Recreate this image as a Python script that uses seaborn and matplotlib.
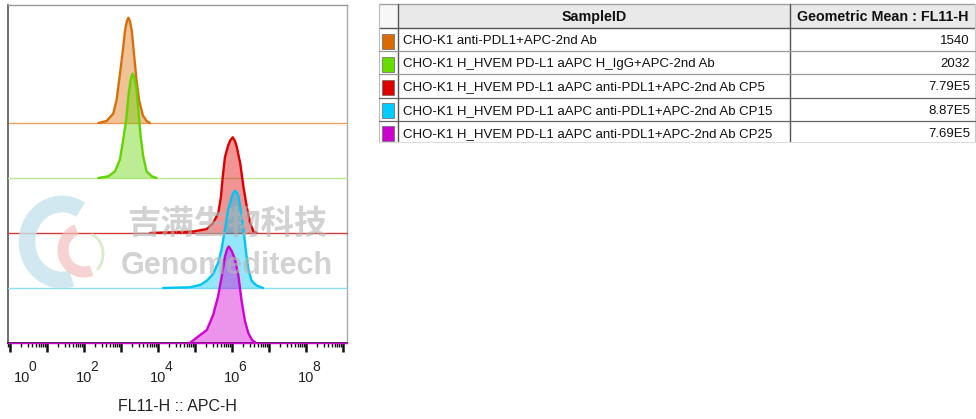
import numpy as np
import pandas as pd
import matplotlib
matplotlib.use("Agg")
import matplotlib.pyplot as plt
import matplotlib.transforms as mtrans
import seaborn as sns
from matplotlib.patches import Rectangle, Arc
from matplotlib.ticker import LogLocator, FuncFormatter, NullFormatter

sns.set_theme(style="white")
plt.rcParams["font.family"] = ["Liberation Sans", "DejaVu Sans"]

# ---------------- data ----------------
samples = [
    "CHO-K1 anti-PDL1+APC-2nd Ab",
    "CHO-K1 H_HVEM PD-L1 aAPC H_IgG+APC-2nd Ab",
    "CHO-K1 H_HVEM PD-L1 aAPC anti-PDL1+APC-2nd Ab CP5",
    "CHO-K1 H_HVEM PD-L1 aAPC anti-PDL1+APC-2nd Ab CP15",
    "CHO-K1 H_HVEM PD-L1 aAPC anti-PDL1+APC-2nd Ab CP25",
]
geo_mean = ["1540", "2032", "7.79E5", "8.87E5", "7.69E5"]

# histogram outlines: log10(FL11-H) positions and relative counts
orange_log = [2.39, 2.61, 2.79, 2.88, 2.95, 3.04, 3.11, 3.16, 3.20, 3.24, 3.29, 3.35, 3.42, 3.49, 3.59, 3.69, 3.78]
orange_cnt = [0, 2, 9.3, 22.7, 42.7, 69.3, 92.7, 102, 105.3, 102, 92.7, 69.3, 42.7, 22.7, 7.7, 2, 0]

green_log = [2.39, 2.66, 2.84, 2.97, 3.06, 3.14, 3.20, 3.26, 3.31, 3.36, 3.41, 3.47, 3.53, 3.60, 3.69, 3.83, 3.96]
green_cnt = [0, 1.7, 6.7, 18.3, 38.3, 58.3, 81.7, 98, 104.3, 100, 91.7, 68.3, 41.7, 21.7, 6.7, 1.7, 0]

red_log = [3.78, 4.41, 4.95, 5.32, 5.49, 5.63, 5.70, 5.75, 5.81, 5.90, 5.96, 6.02, 6.08, 6.13, 6.22, 6.31, 6.40, 6.49, 6.58, 6.67]
red_cnt = [0, 0.8, 1.5, 4, 10, 20, 36, 56, 76, 88, 93, 95.7, 92, 86, 70, 46, 26, 10, 1.5, 0]

cyan_log = [4.14, 4.86, 5.14, 5.32, 5.49, 5.63, 5.72, 5.81, 5.90, 5.99, 6.04, 6.08, 6.13, 6.17, 6.22, 6.31, 6.38, 6.44, 6.53, 6.67, 6.84]
cyan_cnt = [0, 0.7, 3, 7.3, 14, 25.7, 39, 59, 79, 90.7, 95.5, 97.3, 95.5, 92, 82, 59, 35.7, 19, 7.3, 2.3, 0]

magenta_log = [4.86, 5.14, 5.32, 5.49, 5.62, 5.72, 5.81, 5.87, 5.91, 5.95, 5.99, 6.08, 6.17, 6.26, 6.35, 6.44, 6.54, 6.65]
magenta_cnt = [0, 8, 13, 28, 46, 66, 86.5, 94, 96.5, 94.5, 92, 84, 68, 42, 22, 10, 3, 0]

curve_logs = [orange_log, green_log, red_log, cyan_log, magenta_log]
curve_cnts = [orange_cnt, green_cnt, red_cnt, cyan_cnt, magenta_cnt]

labeled_exponents = [0, 2, 4, 6, 8]

# ---------------- styles ----------------
line_colors = ["#DA6F0A", "#63D400", "#DC0000", "#00C6F5", "#D200D2"]
base_colors = ["#F0A264", "#B8EA94", "#D83A3A", "#8FDDF4", "#D200D2"]
swatch_colors = ["#D96C00", "#66DD00", "#DD0000", "#00CCFF", "#CC00CC"]
step = 55.0

rows = []
n = len(samples)
for i, (s, lx, c) in enumerate(zip(samples, curve_logs, curve_cnts)):
    off = step * (n - 1 - i)
    for a, b in zip(lx, c):
        rows.append({"sample": s, "x": 10 ** a, "y": b + off, "base": off})
df = pd.DataFrame(rows)

W, H = 976, 419
fig = plt.figure(figsize=(W / 100, H / 100), dpi=100)
ax = fig.add_axes([8 / W, (H - 343) / H, (347 - 8) / W, (343 - 5) / H])
ax.set_facecolor("white")

for i, s in enumerate(samples):
    sub = df[df["sample"] == s]
    off = step * (n - 1 - i)
    ax.axhline(off, color=base_colors[i], lw=1.0, zorder=1 + 3 * i, clip_on=False)
    ax.fill_between(sub["x"], sub["base"], sub["y"], color=line_colors[i],
                    alpha=0.42, lw=0, zorder=2 + 3 * i)
    sns.lineplot(data=sub, x="x", y="y", color=line_colors[i], lw=1.7,
                 estimator=None, sort=False, legend=False, ax=ax, zorder=3 + 3 * i)

ax.set_xscale("log")
ax.set_xlim(10 ** -0.054, 10 ** 9.108)
ax.set_ylim(0, 338)
ax.set_yticks([])
ax.set_ylabel("")

ax.xaxis.set_major_locator(LogLocator(base=10, numticks=20))
ax.xaxis.set_minor_locator(LogLocator(base=10, subs=np.arange(2, 10), numticks=200))


def fmt(v, pos):
    e = int(round(np.log10(v)))
    return "10" if e in labeled_exponents else ""


ax.xaxis.set_major_formatter(FuncFormatter(fmt))
ax.xaxis.set_minor_formatter(NullFormatter())
ax.tick_params(axis="x", which="major", direction="out", length=6.5, width=1.8,
               color="#111111", labelsize=10.5, pad=14, labelcolor="#222222", bottom=True)
ax.tick_params(axis="x", which="minor", direction="out", length=3.2, width=1.0,
               color="#111111", bottom=True)
ax.set_xlabel("FL11-H :: APC-H", fontsize=11.5, color="#222222", labelpad=10)

for side, col in [("left", "#555555"), ("top", "#999999"), ("right", "#AAAAAA"), ("bottom", "#111111")]:
    ax.spines[side].set_visible(True)
    ax.spines[side].set_color(col)
    ax.spines[side].set_linewidth(1.2 if side in ("left", "bottom") else 1.0)

# first label kept inside the frame (as in the FlowJo export)
fig.canvas.draw()
for tk in ax.xaxis.get_major_ticks():
    if tk.get_loc() > 0 and int(round(np.log10(tk.get_loc()))) == 0:
        tk.label1.set_transform(tk.label1.get_transform()
                                + mtrans.ScaledTranslation(12 / 100, 0, fig.dpi_scale_trans))

# exponents written as full-size superscripts next to each "10"
for e in labeled_exponents:
    dx = 22 if e == 0 else 10
    ax.annotate(str(e), xy=(10.0 ** e, 0), xycoords=("data", "axes fraction"),
                xytext=(dx, -24), textcoords="offset pixels", fontsize=10,
                ha="center", va="center", color="#222222", annotation_clip=False)

# ---------------- overlay: table + watermark ----------------
ov = fig.add_axes([0, 0, 1, 1], zorder=10)
ov.set_xlim(0, W)
ov.set_ylim(H, 0)
ov.axis("off")
ov.patch.set_alpha(0)

# watermark
ov.add_patch(Arc((62, 242), 70, 76, theta1=75, theta2=300, lw=12, color="#C6E3EE", alpha=0.8))
ov.add_patch(Arc((84, 250), 42, 44, theta1=70, theta2=250, lw=8, color="#F4BFBF", alpha=0.7))
ov.add_patch(Arc((88, 254), 30, 40, theta1=-80, theta2=60, lw=2, color="#CDE8C2", alpha=0.8))
ov.text(227, 224, "吉满生物科技", fontsize=24, fontweight="bold", color="#B5B5B5",
        alpha=0.6, ha="center", va="center", family=["Noto Sans CJK SC", "DejaVu Sans"])
ov.text(227, 266, "Genomeditech", fontsize=22, fontweight="bold", color="#B5B5B5",
        alpha=0.6, ha="center", va="center")

# table
tx0, tx1, tx2, tx3 = 379, 398, 790, 975
ty0, ty1 = 4, 28
row_h = 23.2
ov.add_patch(Rectangle((tx0, ty0), tx1 - tx0, ty1 - ty0, facecolor="#F7F7F7", edgecolor="none"))
ov.add_patch(Rectangle((tx1, ty0), tx3 - tx1, ty1 - ty0, facecolor="#E9E9E9", edgecolor="none"))
tbot = ty1 + row_h * n - 2
ov.plot([tx0, tx3], [ty0, ty0], color="#A0A0A0", lw=1.0)
ov.plot([tx0, tx3], [ty1, ty1], color="#555555", lw=1.0)
ov.plot([tx0, tx0], [ty0, tbot], color="#BBBBBB", lw=0.8)
ov.plot([tx3, tx3], [ty0, tbot], color="#CCCCCC", lw=0.8)
ov.plot([tx1, tx1], [ty0, tbot], color="#555555", lw=1.0)
ov.plot([tx2, tx2], [ty0, tbot], color="#555555", lw=1.0)
ov.plot([tx0, tx3], [tbot, tbot], color="#DDDDDD", lw=0.8)
ov.text((tx1 + tx2) / 2, (ty0 + ty1) / 2 + 1, "SampleID", fontsize=10.3, fontweight="bold",
        ha="center", va="center", color="#111111")
ov.text((tx2 + tx3) / 2, (ty0 + ty1) / 2 + 1, "Geometric Mean : FL11-H", fontsize=10.3,
        fontweight="bold", ha="center", va="center", color="#111111")
for i, (s, g) in enumerate(zip(samples, geo_mean)):
    top = ty1 + row_h * i
    if i > 0:
        ov.plot([tx0, tx3], [top, top], color="#666666" if i >= 3 else "#999999", lw=0.9)
    cy = top + row_h / 2 + 1.5
    ov.add_patch(Rectangle((382, cy - 7.5), 12, 15, facecolor=swatch_colors[i],
                           edgecolor="#666666", lw=0.5))
    ov.text(403, cy, s, fontsize=9.5, ha="left", va="center", color="#111111")
    ov.text(970, cy, g, fontsize=9.5, ha="right", va="center", color="#111111")

fig.savefig("out.png", dpi=100, facecolor="white")
